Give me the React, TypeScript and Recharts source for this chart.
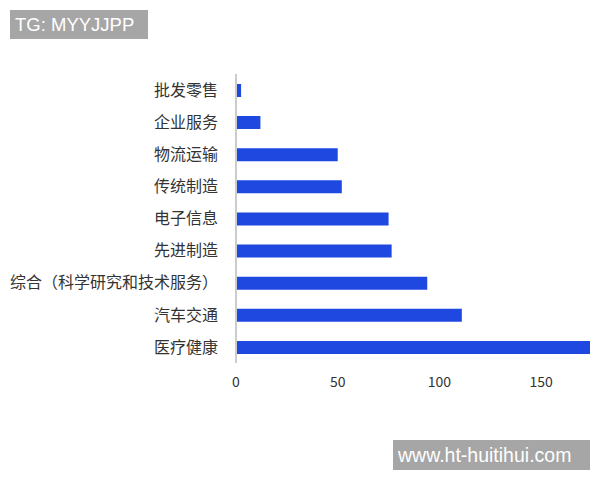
import { BarChart, Bar, XAxis, YAxis } from 'recharts';

const categories = [
  '批发零售',
  '企业服务',
  '物流运输',
  '传统制造',
  '电子信息',
  '先进制造',
  '综合（科学研究和技术服务）',
  '汽车交通',
  '医疗健康',
];
const counts = [2.5, 12, 50, 52, 75, 76.5, 94, 111, 174];
const xTicks = [0, 50, 100, 150];

const data = categories.map((name, i) => ({ name, value: counts[i] }));

const font = '"Noto Sans CJK SC", "Noto Sans", sans-serif';
const markFont = '"Liberation Sans", Arial, sans-serif';

export default function App() {
  return (
    <div
      style={{
        position: 'absolute',
        left: 0,
        top: 0,
        width: 600,
        height: 480,
        background: '#fff',
        fontFamily: font,
      }}
    >
      <BarChart
        width={600}
        height={480}
        data={data}
        layout="vertical"
        margin={{ top: 74, right: 10, bottom: 87, left: 0 }}
        barCategoryGap={0}
      >
        <XAxis
          type="number"
          domain={[0, 'dataMax']}
          ticks={xTicks}
          axisLine={false}
          tickLine={false}
          height={30}
          tickSize={0}
          tickMargin={14}
          tick={{ fontSize: 14, fill: '#333', fontFamily: font }}
        />
        <YAxis
          type="category"
          dataKey="name"
          width={236}
          axisLine={{ stroke: '#ccc', strokeWidth: 2 }}
          tickLine={false}
          tickSize={0}
          tickMargin={18}
          interval={0}
          tick={{ fontSize: 16, fill: '#333', fontFamily: font }}
        />
        <Bar dataKey="value" fill="#1f48e0" barSize={13} isAnimationActive={false} />
      </BarChart>
      <div
        style={{
          position: 'absolute',
          left: 10,
          top: 10,
          width: 138,
          height: 29,
          background: '#a6a6a6',
          color: '#fff',
          fontFamily: markFont,
          fontSize: 18.5,
          lineHeight: '29px',
          paddingLeft: 5,
          boxSizing: 'border-box',
          whiteSpace: 'nowrap',
        }}
      >
        TG: MYYJJPP
      </div>
      <div
        style={{
          position: 'absolute',
          left: 393,
          top: 440,
          width: 197,
          height: 30,
          background: '#a6a6a6',
          color: '#fff',
          fontFamily: markFont,
          fontSize: 19.5,
          lineHeight: '30px',
          paddingLeft: 5,
          boxSizing: 'border-box',
          whiteSpace: 'nowrap',
        }}
      >
        www.ht-huitihui.com
      </div>
    </div>
  );
}
